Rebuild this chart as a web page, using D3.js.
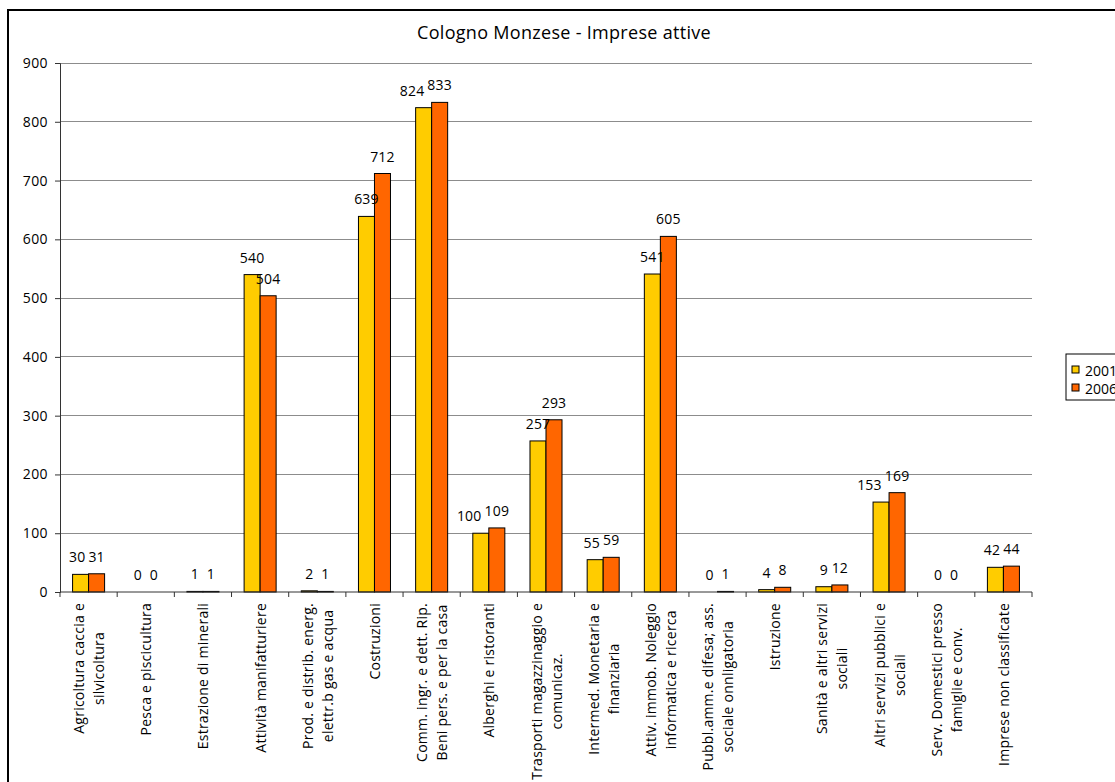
<!DOCTYPE html>
<html>
<head>
<meta charset="utf-8">
<script src="https://cdn.jsdelivr.net/npm/d3@7"></script>
<style>
  body { margin: 0; background: #fff; }
  svg text { font-family: "Open Sans", sans-serif; fill: #000; }
</style>
</head>
<body>
<div id="chart-area"></div>
<script>
// categorie (righe separate = a capo nell'etichetta)
var categorie = [
    ["Agricoltura caccia e", "silvicoltura"],
    ["Pesca e piscicultura"],
    ["Estrazione di minerali"],
    ["Attività manifatturiere"],
    ["Prod. e distrib. energ.", "elettr.b gas e acqua"],
    ["Costruzioni"],
    ["Comm. ingr. e dett. Rip.", "Beni pers. e per la casa"],
    ["Alberghi e ristoranti"],
    ["Trasporti magazzinaggio e", "comunicaz."],
    ["Intermed. Monetaria e", "finanziaria"],
    ["Attiv. immob. Noleggio", "informatica e ricerca"],
    ["Pubbl.amm.e difesa; ass.", "sociale onnligatoria"],
    ["Istruzione"],
    ["Sanità e altri servizi", "sociali"],
    ["Altri servizi pubblici e", "sociali"],
    ["Serv. Domestici presso", "famiglie e conv."],
    ["Imprese non classificate"]
];
var anni = ["2001", "2006"];
var val2001 = [30, 0, 1, 540, 2, 639, 824, 100, 257, 55, 541, 0, 4, 9, 153, 0, 42];
var val2006 = [31, 0, 1, 504, 1, 712, 833, 109, 293, 59, 605, 1, 8, 12, 169, 0, 44];
var yTicks = [0, 100, 200, 300, 400, 500, 600, 700, 800, 900];
var colori = ["#FFCC00", "#FF6600"];

var W = 1115, H = 782;
var plot = { left: 60, right: 1032, top: 63, bottom: 592 };

var svg = d3.select("#chart-area")
    .append("svg")
        .attr("width", W)
        .attr("height", H);

// cornice esterna
svg.append("rect")
    .attr("x", 8).attr("y", 10)
    .attr("width", 1130).attr("height", 800)
    .attr("fill", "none")
    .attr("stroke", "#000")
    .attr("stroke-width", 2);

svg.append("text")
    .attr("x", 564).attr("y", 39)
    .attr("text-anchor", "middle")
    .style("font-size", "18px")
    .style("letter-spacing", "0.3px")
    .text("Cologno Monzese - Imprese attive");

var x0 = d3.scaleBand()
    .domain(d3.range(categorie.length))
    .range([plot.left, plot.right])
    .paddingInner(0.44)
    .paddingOuter(0.22);

var x1 = d3.scaleBand()
    .domain(anni)
    .range([0, x0.bandwidth()]);

var y = d3.scaleLinear()
    .domain([0, 900])
    .range([plot.bottom, plot.top]);

// griglia
svg.append("g")
    .selectAll("line")
    .data(yTicks.filter(d => d > 0))
    .join("line")
        .attr("x1", plot.left).attr("x2", plot.right)
        .attr("y1", d => y(d)).attr("y2", d => y(d))
        .attr("stroke", "#8c8c8c")
        .attr("stroke-width", 1)
        .attr("shape-rendering", "crispEdges");

// asse y
var yAxis = svg.append("g")
    .attr("transform", "translate(" + plot.left + ",0)")
    .call(d3.axisLeft(y).tickValues(yTicks).tickSize(5).tickPadding(7));
yAxis.select(".domain").attr("stroke", "#333");
yAxis.selectAll(".tick line").attr("stroke", "#333");
yAxis.selectAll("text")
    .style("font-family", "'Open Sans', sans-serif")
    .style("font-size", "14px")
    .style("letter-spacing", "0.4px")
    .attr("fill", "#000");

// barre
var dati = categorie.map((c, i) => ({ i: i, valori: [val2001[i], val2006[i]] }));

var gruppi = svg.append("g")
    .selectAll("g")
    .data(dati)
    .join("g")
        .attr("transform", d => "translate(" + x0(d.i) + ",0)");

gruppi.selectAll("rect")
    .data(d => d.valori.map((v, k) => ({ anno: anni[k], v: v, k: k })))
    .join("rect")
        .attr("x", d => x1(d.anno))
        .attr("width", x1.bandwidth())
        .attr("y", d => y(d.v))
        .attr("height", d => y(0) - y(d.v))
        .attr("fill", d => colori[d.k])
        .attr("stroke", d => d.v > 0 ? "#000" : "none")
        .attr("stroke-width", 1);

gruppi.each(function(d) {
    var g = d3.select(this);
    var lab = g.selectAll("text.val")
        .data(d.valori.map((v, k) => ({ anno: anni[k], v: v, k: k })))
        .join("text")
            .attr("class", "val")
            .attr("x", e => x1(e.anno) + x1.bandwidth() / 2)
            .attr("y", e => y(e.v) - 12)
            .attr("text-anchor", "middle")
            .style("font-size", "14px")
            .style("letter-spacing", "0.2px")
            .text(e => e.v);
    // se le due etichette si sovrappongono, sposta quella del 2001 a sinistra
    var n = lab.nodes();
    var b0 = n[0].getBBox(), b1 = n[1].getBBox();
    var dy = Math.abs(b0.y - b1.y);
    if (dy < b0.height && b0.x + b0.width > b1.x - 1) {
        var shift = b0.x + b0.width - b1.x + 3;
        d3.select(n[0]).attr("x", +d3.select(n[0]).attr("x") - shift);
    }
});

// asse x
svg.append("line")
    .attr("x1", plot.left).attr("x2", plot.right)
    .attr("y1", plot.bottom).attr("y2", plot.bottom)
    .attr("stroke", "#333");

var step = x0.step();
svg.append("g")
    .selectAll("line")
    .data(d3.range(categorie.length + 1))
    .join("line")
        .attr("x1", d => plot.left + d * step).attr("x2", d => plot.left + d * step)
        .attr("y1", plot.bottom).attr("y2", plot.bottom + 5)
        .attr("stroke", "#333");

// etichette ruotate
var etichette = svg.append("g")
    .selectAll("g")
    .data(categorie)
    .join("g")
        .attr("transform", (d, i) => "translate(" + (x0(i) + x0.bandwidth() / 2) + "," + 603 + ") rotate(-90)");

etichette.each(function(righe) {
    var g = d3.select(this);
    var n = righe.length;
    var testi = g.selectAll("text")
        .data(righe)
        .join("text")
            .style("font-size", "14px")
            .style("letter-spacing", "0.25px")
            .attr("dominant-baseline", "central")
            .attr("x", 0)
            .attr("y", (r, j) => (j - (n - 1) / 2) * 20)
            .text(r => r);
    var maxW = d3.max(testi.nodes(), t => t.getComputedTextLength());
    testi.attr("text-anchor", "middle").attr("x", -maxW / 2);
});

// legenda
var leg = svg.append("g").attr("transform", "translate(1066,354)");
leg.append("rect")
    .attr("width", 80).attr("height", 46)
    .attr("fill", "#fff")
    .attr("stroke", "#000");
var voci = leg.selectAll("g")
    .data(anni)
    .join("g")
        .attr("transform", (d, i) => "translate(6," + (16 + i * 18) + ")");
voci.append("rect")
    .attr("x", 0).attr("y", -4)
    .attr("width", 7).attr("height", 7)
    .attr("fill", (d, i) => colori[i])
    .attr("stroke", "#000");
voci.append("text")
    .attr("x", 13).attr("y", 0)
    .attr("dominant-baseline", "central")
    .style("font-size", "14px")
    .text(d => d);
</script>
</body>
</html>
